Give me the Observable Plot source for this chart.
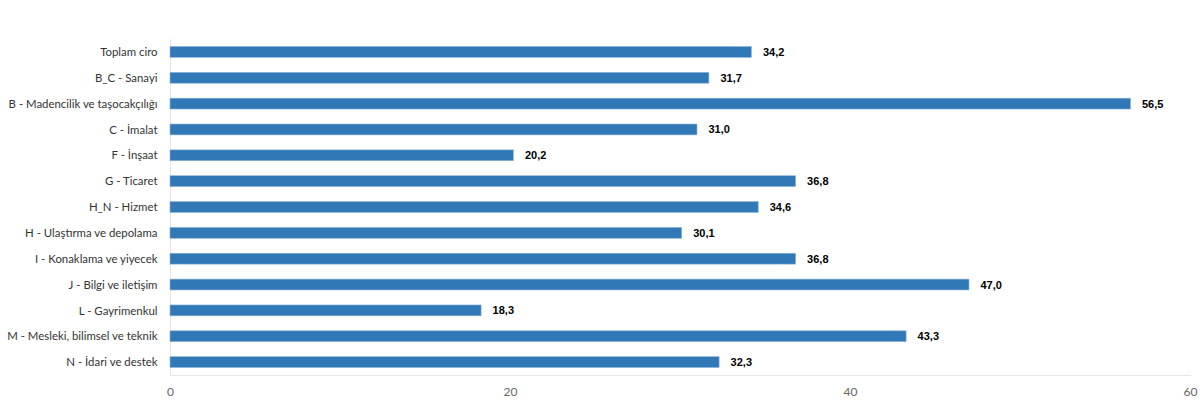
<!DOCTYPE html>
<html><head><meta charset="utf-8">
<script src="https://cdn.jsdelivr.net/npm/d3@7"></script>
<script src="https://cdn.jsdelivr.net/npm/@observablehq/plot@0.6"></script>
<style>body{margin:0;background:#fff;} svg{display:block;}</style>
</head><body><div id="chart"></div>
<script>
const categories = ["Toplam ciro","B_C - Sanayi","B - Madencilik ve taşocakçılığı","C - İmalat","F - İnşaat","G - Ticaret","H_N - Hizmet","H - Ulaştırma ve depolama","I - Konaklama ve yiyecek","J - Bilgi ve iletişim","L - Gayrimenkul","M - Mesleki, bilimsel ve teknik","N - İdari ve destek"];
const values = [34.2,31.7,56.5,31.0,20.2,36.8,34.6,30.1,36.8,47.0,18.3,43.3,32.3];
const xTicks = [0,20,40,60];
const data = categories.map((c,i)=>({cat:c, v:values[i]}));
const fmt = v => v.toFixed(1).replace(".", ",");
const chart = Plot.plot({
  width:1200, height:403,
  marginTop:39, marginBottom:28, marginLeft:170, marginRight:10,
  style:{fontFamily:"Lato, sans-serif", fontSize:"12px", background:"#fff"},
  x:{domain:[0,60], ticks:xTicks, label:null},
  y:{domain:categories, label:null, paddingInner:0.58, paddingOuter:0.29, round:false},
  marks:[
    Plot.ruleX([0], {stroke:"#e6e6e6"}),
    Plot.frame({anchor:"bottom", stroke:"#e6e6e6"}),
    Plot.barX(data, {x:"v", y:"cat", fill:"#3079b6", stroke:"#8db5da", strokeWidth:0.6}),
    Plot.text(data, {x:"v", y:"cat", text:d=>fmt(d.v), textAnchor:"start", dx:11, fontWeight:"bold", fontSize:11, fill:"#000", fontFamily:"'Liberation Sans', Arial, sans-serif"}),
    Plot.axisY({tickSize:0, tickPadding:13, fill:"#333", fontSize:11.4, label:null}),
    Plot.axisX({tickSize:0, tickPadding:12, fill:"#666", fontSize:12, label:null, ticks:xTicks})
  ]
});
document.getElementById("chart").append(chart);
</script></body></html>
